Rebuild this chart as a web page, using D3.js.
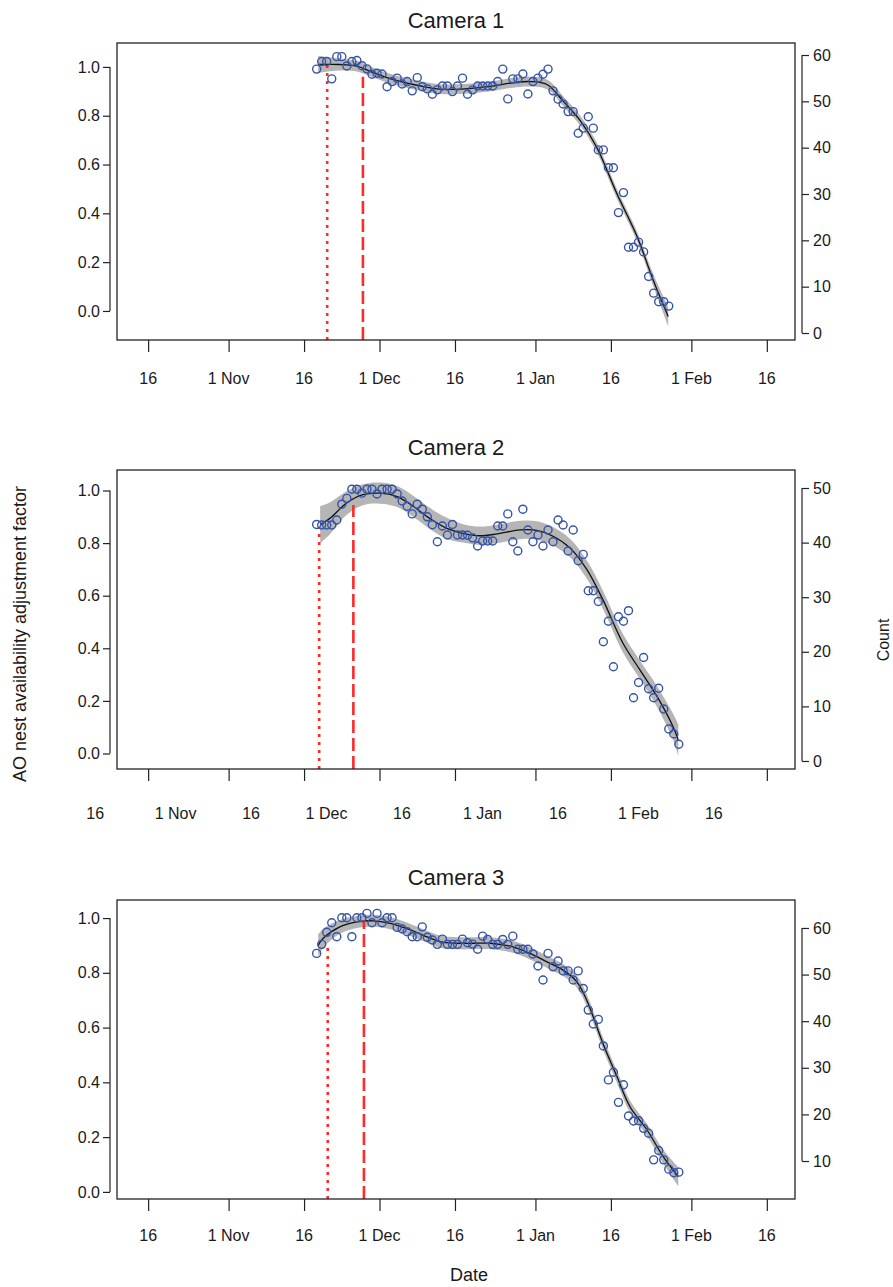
<!DOCTYPE html>
<html>
<head>
<meta charset="utf-8">
<script src="https://d3js.org/d3.v7.min.js"></script>
<style>
  body { margin: 0; background: #fff; }
  svg text { font-family: "Liberation Sans", Arial, sans-serif; fill: #1a1a1a; }
</style>
</head>
<body>
<div id="chart"></div>
<script>
// all dates are days counted from 1 Nov (fractional allowed)
const dateTicks = [-16, 0, 15, 30, 45, 61, 76, 92, 107];
const dateLabels = ["16", "1 Nov", "16", "1 Dec", "16", "1 Jan", "16", "1 Feb", "16"];
const factorTicks = [0, 0.2, 0.4, 0.6, 0.8, 1.0];

// Camera 1: daily points starting at cam1Start
const cam1Start = 17.5;
const cam1Vals = [0.991, 1.022, 1.022, 0.951, 1.042, 1.042, 1.004, 1.022, 1.026, 1.005,
  0.992, 0.970, 0.974, 0.971, 0.919, 0.940, 0.954, 0.930, 0.940, 0.902,
  0.956, 0.919, 0.910, 0.888, 0.906, 0.922, 0.922, 0.899, 0.922, 0.954,
  0.888, 0.906, 0.922, 0.922, 0.922, 0.922, 0.940, 0.991, 0.869, 0.951,
  0.951, 0.971, 0.889, 0.940, 0.954, 0.970, 0.991, 0.902, 0.868, 0.848,
  0.817, 0.817, 0.728, 0.749, 0.796, 0.749, 0.660, 0.660, 0.587, 0.587,
  0.403, 0.485, 0.261, 0.261, 0.282, 0.242, 0.141, 0.073, 0.038, 0.038, 0.020];
const cam1FitDays = [17.8, 22.1, 25.5, 28.1, 32.1, 38.6, 42, 47, 52, 56.5, 59.9, 63.3, 66.5, 69.9, 73.2, 77.2, 81.2, 84.4, 87.4];
const cam1FitVals = [1.01, 1.01, 1.003, 0.982, 0.952, 0.92, 0.909, 0.91, 0.92, 0.935, 0.94, 0.928, 0.86, 0.78, 0.67, 0.48, 0.305, 0.127, -0.023];
const cam1FitSE = [0.035, 0.025, 0.022, 0.02, 0.02, 0.02, 0.02, 0.02, 0.02, 0.02, 0.02, 0.02, 0.02, 0.02, 0.02, 0.02, 0.02, 0.025, 0.04];
const cam1Marks = [19.6, 26.7];
const cam1MarkTops = [1.008, 0.96];
const cam1CountTicks = [0, 10, 20, 30, 40, 50, 60];

// Camera 2
const cam2Start = 17.5;
const cam2Vals = [0.871, 0.869, 0.869, 0.869, 0.888, 0.948, 0.970, 1.005, 1.005, 0.990,
  1.005, 1.005, 0.987, 1.005, 1.005, 1.005, 0.987, 0.960, 0.940, 0.911,
  0.948, 0.929, 0.900, 0.870, 0.805, 0.865, 0.831, 0.871, 0.831, 0.831,
  0.830, 0.820, 0.789, 0.808, 0.808, 0.808, 0.865, 0.865, 0.911, 0.805,
  0.770, 0.929, 0.850, 0.805, 0.831, 0.789, 0.850, 0.805, 0.888, 0.869,
  0.770, 0.850, 0.733, 0.757, 0.619, 0.619, 0.578, 0.425, 0.503, 0.330,
  0.520, 0.503, 0.543, 0.212, 0.270, 0.365, 0.246, 0.212, 0.248, 0.169,
  0.093, 0.074, 0.035];
const cam2FitDays = [18.2, 20.2, 23.5, 26.7, 30.1, 33.5, 36.7, 40, 43.4, 46.6, 50, 53.4, 58, 61.3, 64.5, 67.9, 71.2, 74.4, 78.4, 81.8, 85.2, 88.4, 89.4];
const cam2FitVals = [0.87, 0.895, 0.953, 0.984, 0.99, 0.977, 0.94, 0.894, 0.856, 0.837, 0.828, 0.835, 0.85, 0.848, 0.826, 0.781, 0.70, 0.585, 0.419, 0.317, 0.216, 0.10, 0.05];
const cam2FitSE = [0.07, 0.06, 0.045, 0.04, 0.04, 0.04, 0.04, 0.04, 0.04, 0.035, 0.035, 0.035, 0.035, 0.035, 0.035, 0.035, 0.035, 0.035, 0.035, 0.035, 0.04, 0.05, 0.06];
const cam2Marks = [18.0, 24.8];
const cam2MarkTops = [0.862, 0.945];
const cam2CountTicks = [0, 10, 20, 30, 40, 50];

// Camera 3
const cam3Start = 17.5;
const cam3Vals = [0.871, 0.904, 0.948, 0.983, 0.932, 1.001, 1.001, 0.932, 1.001, 1.001,
  1.017, 0.983, 1.017, 0.983, 1.001, 1.001, 0.966, 0.960, 0.950, 0.932,
  0.932, 0.968, 0.930, 0.920, 0.904, 0.923, 0.904, 0.904, 0.904, 0.923,
  0.910, 0.905, 0.886, 0.934, 0.922, 0.904, 0.904, 0.922, 0.904, 0.934,
  0.886, 0.886, 0.886, 0.869, 0.825, 0.774, 0.871, 0.822, 0.843, 0.807,
  0.807, 0.774, 0.807, 0.743, 0.664, 0.613, 0.630, 0.533, 0.409, 0.437,
  0.327, 0.391, 0.277, 0.259, 0.260, 0.232, 0.214, 0.117, 0.151, 0.117,
  0.083, 0.070, 0.072];
const cam3FitDays = [17.8, 18.8, 22.1, 25.5, 28.7, 32.1, 35.4, 38.6, 42, 45.4, 48.6, 52, 56.5, 59.9, 63.3, 66.5, 69.2, 71.2, 73.2, 74.4, 77.2, 79.8, 83.2, 86.4, 89.4];
const cam3FitVals = [0.90, 0.926, 0.968, 0.986, 0.99, 0.981, 0.962, 0.938, 0.914, 0.908, 0.908, 0.908, 0.895, 0.871, 0.84, 0.81, 0.768, 0.70, 0.603, 0.543, 0.421, 0.311, 0.226, 0.129, 0.056];
const cam3FitSE = [0.04, 0.035, 0.025, 0.022, 0.022, 0.022, 0.022, 0.022, 0.022, 0.022, 0.022, 0.022, 0.022, 0.022, 0.022, 0.022, 0.022, 0.022, 0.022, 0.022, 0.022, 0.022, 0.022, 0.025, 0.035];
const cam3Marks = [19.7, 26.9];
const cam3MarkTops = [0.895, 0.993];
const cam3CountTicks = [10, 20, 30, 40, 50, 60];

const W = 893, H = 1287;
const base = Date.UTC(2014, 10, 1);
const toDate = d => new Date(base + d * 864e5);

const svg = d3.select("#chart").append("svg")
  .attr("width", W).attr("height", H);

const x = d3.scaleUtc()
  .domain([toDate(-22.19), toDate(112.6)])
  .range([117, 795]);

const panels = [
  { title: "Camera 1", top: 43, bottom: 340, yDom: [-0.119, 1.098], cDom: [-1.51, 62.59],
    start: cam1Start, vals: cam1Vals, fd: cam1FitDays, fv: cam1FitVals, fs: cam1FitSE,
    marks: cam1Marks, tops: cam1MarkTops, cTicks: cam1CountTicks, labelShift: 0, labelDy: 38 },
  { title: "Camera 2", top: 470, bottom: 769, yDom: [-0.059, 1.078], cDom: [-1.47, 53.3],
    start: cam2Start, vals: cam2Vals, fd: cam2FitDays, fv: cam2FitVals, fs: cam2FitSE,
    marks: cam2Marks, tops: cam2MarkTops, cTicks: cam2CountTicks, labelShift: -53, labelDy: 44 },
  { title: "Camera 3", top: 900, bottom: 1199, yDom: [-0.026, 1.066], cDom: [1.85, 66.0],
    start: cam3Start, vals: cam3Vals, fd: cam3FitDays, fv: cam3FitVals, fs: cam3FitSE,
    marks: cam3Marks, tops: cam3MarkTops, cTicks: cam3CountTicks, labelShift: 0, labelDy: 36 }
];

panels.forEach(p => {
  const y = d3.scaleLinear().domain(p.yDom).range([p.bottom, p.top]);
  const yc = d3.scaleLinear().domain(p.cDom).range([p.bottom, p.top]);
  const g = svg.append("g");

  // title
  g.append("text")
    .attr("x", 456).attr("y", p.top - 15)
    .attr("text-anchor", "middle")
    .style("font-size", "22px")
    .text(p.title);

  // confidence band and fitted curve
  const fit = p.fd.map((d, i) => ({ t: toDate(d), v: p.fv[i], s: p.fs[i] }));
  g.append("path")
    .datum(fit)
    .attr("fill", "#b5b5b5")
    .attr("d", d3.area()
      .curve(d3.curveCatmullRom)
      .x(d => x(d.t))
      .y0(d => y(d.v - d.s))
      .y1(d => y(d.v + d.s)));
  g.append("path")
    .datum(fit)
    .attr("fill", "none")
    .attr("stroke", "#111")
    .attr("stroke-width", 1.3)
    .attr("d", d3.line()
      .curve(d3.curveCatmullRom)
      .x(d => x(d.t))
      .y(d => y(d.v)));

  // red reference lines
  p.marks.forEach((m, i) => {
    g.append("line")
      .attr("x1", x(toDate(m))).attr("x2", x(toDate(m)))
      .attr("y1", p.bottom).attr("y2", y(p.tops[i]))
      .attr("stroke", "#ff2a2a")
      .attr("stroke-width", 2.6)
      .attr("stroke-dasharray", i === 0 ? "3,5" : "13,5");
  });

  // points
  g.selectAll("circle")
    .data(p.vals)
    .join("circle")
    .attr("cx", (v, i) => x(toDate(p.start + i)))
    .attr("cy", v => y(v))
    .attr("r", 4)
    .attr("fill", "none")
    .attr("stroke", "#3554a8")
    .attr("stroke-width", 1.4);

  // frame
  g.append("rect")
    .attr("x", 117).attr("y", p.top)
    .attr("width", 678).attr("height", p.bottom - p.top)
    .attr("fill", "none").attr("stroke", "#222").attr("stroke-width", 1.3);

  // left axis
  const ax = g.append("g")
    .attr("transform", `translate(110,0)`)
    .call(d3.axisLeft(y).tickValues(factorTicks).tickFormat(d3.format(".1f")).tickSize(7).tickPadding(3));
  ax.select(".domain").attr("d", `M0,${y(0)}V${y(1)}`);

  // right axis
  const cTicks = p.cTicks;
  const ar = g.append("g")
    .attr("transform", `translate(802,0)`)
    .call(d3.axisRight(yc).tickValues(cTicks).tickSize(7).tickPadding(4));
  ar.select(".domain").attr("d", `M0,${yc(cTicks[0])}V${yc(cTicks[cTicks.length - 1])}`);

  // bottom axis ticks
  const tickDates = dateTicks.map(toDate);
  const ab = g.append("g")
    .attr("transform", `translate(0,${p.bottom})`)
    .call(d3.axisBottom(x).tickValues(tickDates).tickFormat("").tickSizeOuter(0).tickSizeInner(12));
  ab.select(".domain").remove();

  // bottom axis labels
  g.append("g").selectAll("text")
    .data(tickDates)
    .join("text")
    .attr("x", d => x(d) + p.labelShift)
    .attr("y", p.bottom + p.labelDy + 6)
    .attr("text-anchor", "middle")
    .style("font-size", "16px")
    .text((d, i) => dateLabels[i]);

  [ax, ar, ab].forEach(a => {
    a.selectAll("line").attr("stroke", "#222").attr("stroke-width", 1.2);
    a.selectAll("path").attr("stroke", "#222").attr("stroke-width", 1.2);
    a.selectAll("text").style("font-size", "16px").attr("fill", "#1a1a1a")
      .style("font-family", '"Liberation Sans", Arial, sans-serif');
  });
});

// axis titles
svg.append("text")
  .attr("transform", "translate(26,634) rotate(-90)")
  .attr("text-anchor", "middle")
  .style("font-size", "18px")
  .text("AO nest availability adjustment factor");

svg.append("text")
  .attr("transform", "translate(889,640) rotate(-90)")
  .attr("text-anchor", "middle")
  .style("font-size", "16px")
  .text("Count");

svg.append("text")
  .attr("x", 469).attr("y", 1281)
  .attr("text-anchor", "middle")
  .style("font-size", "18px")
  .text("Date");
</script>
</body>
</html>
